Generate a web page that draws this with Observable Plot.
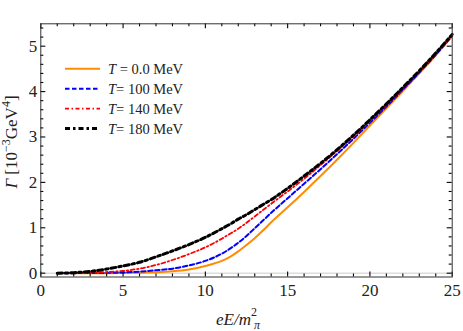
<!DOCTYPE html>
<html><head><meta charset="utf-8">
<script src="https://cdn.jsdelivr.net/npm/d3@7"></script>
<script src="https://cdn.jsdelivr.net/npm/@observablehq/plot@0.6"></script>
<style>
body{margin:0;background:#fff;}
#wrap{position:relative;width:463px;height:331px;}
#wrap svg{position:absolute;left:0;top:0;}
</style></head><body><div id="wrap"></div>
<script>
// eE/m_pi^2 sample points
const eE = [1,2,3,4,5,6,7,8,9,10,11,11.5,12,12.5,13,13.5,14,15,16,17,18,19,20,21,22,23,24,25];
// Gamma [10^-3 GeV^4]
const T0   = [0,0,0,0.001,0.004,0.01,0.02,0.04,0.08,0.16,0.27,0.36,0.48,0.62,0.77,0.94,1.12,1.45,1.79,2.14,2.50,2.87,3.25,3.63,4.01,4.40,4.80,5.22];
const T100 = [0,0.001,0.003,0.007,0.016,0.035,0.065,0.10,0.17,0.27,0.43,0.54,0.67,0.82,0.99,1.16,1.33,1.65,1.97,2.29,2.62,2.96,3.31,3.67,4.04,4.42,4.81,5.23];
const T140 = [0,0.003,0.01,0.025,0.05,0.10,0.18,0.29,0.42,0.57,0.76,0.87,0.98,1.11,1.25,1.39,1.53,1.80,2.08,2.38,2.69,3.01,3.35,3.70,4.06,4.44,4.83,5.24];
const T180 = [0,0.012,0.04,0.09,0.16,0.24,0.36,0.49,0.63,0.79,0.98,1.08,1.19,1.29,1.40,1.51,1.62,1.87,2.14,2.42,2.72,3.04,3.38,3.73,4.09,4.46,4.85,5.26];
const seriesLabels = ["0.0", "100", "140", "180"];
const xTicks = [0,5,10,15,20,25];
const yTicks = [0,1,2,3,4,5];

const styles = [
  {stroke:"#ff8c00", dash:null, w:2},
  {stroke:"#0000ff", dash:"4.5,2.5", w:2},
  {stroke:"#ff0000", dash:"4,2.5,1.5,2.5", w:1.8},
  {stroke:"#000000", dash:"5,3,2.5,3", w:3}
];
const series = [T0, T100, T140, T180];

const xMinor = d3.range(0, 26, 1).filter(v => v % 5 !== 0);
const yMinor = d3.range(0, 5.5, 0.2).map(v => +v.toFixed(1)).filter(v => Math.abs(v - Math.round(v)) > 1e-6);

const lineMarks = series.map((vals, k) => Plot.line(eE.map((x, i) => ({x, y: vals[i]})), {
  x: "x", y: "y", stroke: styles[k].stroke, strokeWidth: styles[k].w,
  strokeDasharray: styles[k].dash, curve: "monotone-x"
}));

const W = 463, H = 331, mL = 40.3, mR = 11.3, mT = 23.3, mB = 54.5;
const fw = W - mL - mR, fh = H - mT - mB;
const xDom = [0, 25], yDom = [-0.084, 5.493];
const tickStroke = "#000";
// inward ticks: rules spanning the frame, trimmed by insets to the tick length
const xt = (vals, len, side) => Plot.ruleX(vals, {x: d => d, stroke: tickStroke, strokeWidth: 1.1,
  [side === "bottom" ? "insetTop" : "insetBottom"]: fh - len});
const yt = (vals, len, side) => Plot.ruleY(vals, {y: d => d, stroke: tickStroke, strokeWidth: 1.1,
  [side === "left" ? "insetRight" : "insetLeft"]: fw - len});

const plot = Plot.plot({
  width: W, height: H,
  marginLeft: mL, marginRight: mR, marginTop: mT, marginBottom: mB,
  x: {domain: xDom},
  y: {domain: yDom},
  style: {fontFamily: "'Liberation Serif', serif", fontSize: "17px", color: "#222", background: "white"},
  marks: [
    Plot.ruleY([0], {stroke: "#cccccc", strokeWidth: 1}),
    ...lineMarks,
    xt(xTicks, 5, "bottom"), xt(xMinor, 3, "bottom"),
    xt(xTicks, 5, "top"), xt(xMinor, 3, "top"),
    yt(yTicks, 5, "left"), yt(yMinor, 3, "left"),
    yt(yTicks, 5, "right"), yt(yMinor, 3, "right"),
    Plot.frame({stroke: "#333"}),
    Plot.axisX({anchor: "bottom", ticks: xTicks, tickSize: 0, tickPadding: 7, label: null, fill: "#222", tickFormat: "d"}),
    Plot.axisY({anchor: "left", ticks: yTicks, tickSize: 0, tickPadding: 3.5, label: null, fill: "#222", tickFormat: "d"})
  ]
});
const wrap = document.getElementById("wrap");
wrap.appendChild(plot);

// overlay: axis titles and legend (real text)
const ov = d3.select(wrap).append("svg").attr("width", W).attr("height", H)
  .style("font-family", "'Liberation Serif', serif").style("fill", "#222");

// y title
const ytl = ov.append("text").attr("transform", "translate(17,142) rotate(-90)")
  .attr("text-anchor", "middle").style("font-size", "17px");
ytl.append("tspan").style("font-style", "italic").text("Γ");
ytl.append("tspan").text(" [10");
ytl.append("tspan").attr("dy", -7).style("font-size", "12px").text("−3");
ytl.append("tspan").attr("dy", 7).text("GeV");
ytl.append("tspan").attr("dy", -7).style("font-size", "12px").text("4");
ytl.append("tspan").attr("dy", 7).text("]");

// x title
const xtl = ov.append("text").attr("x", 216).attr("y", 325).style("font-size", "17px");
xtl.append("tspan").style("font-style", "italic").text("eE/m");
xtl.append("tspan").attr("dy", -9).style("font-size", "12px").text("2");
xtl.append("tspan").attr("dy", 13).attr("dx", -3).style("font-size", "12px").style("font-style", "italic").text("π");

// legend
const legY0 = 68.8, legDy = 19.9;
series.forEach((_, k) => {
  const y = legY0 + k * legDy;
  ov.append("line").attr("x1", 65).attr("x2", 100).attr("y1", y).attr("y2", y)
    .attr("stroke", styles[k].stroke).attr("stroke-width", styles[k].w)
    .attr("stroke-dasharray", styles[k].dash);
  const t = ov.append("text").attr("x", 108).attr("y", y + 5).style("font-size", "14.5px");
  t.append("tspan").style("font-style", "italic").text("T");
  t.append("tspan").text((k === 0 ? " = " : "= ") + seriesLabels[k] + " MeV");
});
</script></body></html>
